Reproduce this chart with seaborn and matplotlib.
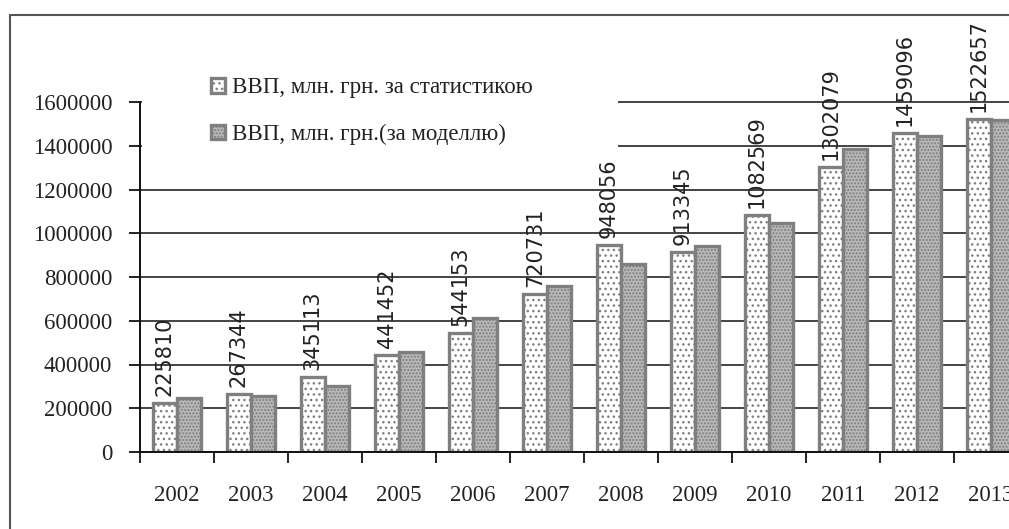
import numpy as np
import pandas as pd
import matplotlib
matplotlib.use('Agg')
import matplotlib.pyplot as plt
import seaborn as sns
from matplotlib.patches import Rectangle
from matplotlib.lines import Line2D

# Data
years = ['2002', '2003', '2004', '2005', '2006', '2007',
         '2008', '2009', '2010', '2011', '2012', '2013']
gdp_stat = [225810, 267344, 345113, 441452, 544153, 720731,
            948056, 913345, 1082569, 1302079, 1459096, 1522657]
gdp_model = [247000, 256000, 302000, 457000, 614000, 759000,
             859000, 943000, 1048000, 1383000, 1444000, 1517000]
series_names = ['ВВП, млн. грн. за статистикою', 'ВВП, млн. грн.(за моделлю)']
y_ticks = [0, 200000, 400000, 600000, 800000, 1000000, 1200000, 1400000, 1600000]

df = pd.DataFrame({
    'year': years * 2,
    'value': gdp_stat + gdp_model,
    'series': [series_names[0]] * len(years) + [series_names[1]] * len(years),
})

sns.set_style('white')
plt.rcParams['font.family'] = ['Liberation Serif', 'DejaVu Serif']
plt.rcParams['hatch.linewidth'] = 1.0

fig = plt.figure(figsize=(10.09, 5.29), dpi=100)
W, H = 1009, 529
# axes extends past the right edge, like the cropped original
ax = fig.add_axes([140 / W, 77 / H, 888 / W, 412 / H])

sns.barplot(data=df, x='year', y='value', hue='series', ax=ax,
            width=0.66, gap=0, legend=False, saturation=1)

edge = '#7f7f7f'
styles = [('white', '...'), ('#b8b8b8', '.....')]
for cont, (fc, hatch) in zip(ax.containers, styles):
    for p in cont:
        p.set_facecolor(fc)
        p.set_edgecolor(edge)
        p.set_hatch(hatch)
        p.set_linewidth(2.4)
        p.set_zorder(2)

ax.set_xlim(-0.5, len(years) - 0.5)
ax.set_ylim(0, 412 * 1600000 / 350)
ax.set_yticks(y_ticks)
ax.set_yticklabels([str(v) for v in y_ticks])
ax.grid(axis='y', color='#111111', lw=1.1)
ax.set_axisbelow(True)
ax.set_xlabel('')
ax.set_ylabel('')

# category boundary ticks + centred year labels
ax.set_xticks(np.arange(-0.5, len(years), 1.0))
ax.set_xticklabels([])
ax.set_xticks(np.arange(len(years)), minor=True)
ax.set_xticklabels(years, minor=True)
ax.tick_params(axis='x', which='major', direction='out', length=8, width=1.3, color='#111111', bottom=True)
ax.tick_params(axis='x', which='minor', length=0, pad=24, labelsize=16.5, labelcolor='#222222')
ax.tick_params(axis='y', direction='out', length=8, width=1.3, color='#111111', left=True,
               pad=12, labelsize=16.5, labelcolor='#222222')

for s in ['top', 'right']:
    ax.spines[s].set_visible(False)
for s in ['left', 'bottom']:
    ax.spines[s].set_color('#111111')
    ax.spines[s].set_linewidth(1.4)
ax.spines['left'].set_bounds(0, y_ticks[-1])

# value labels over the statistic bars
ax.bar_label(ax.containers[0], labels=[str(v) for v in gdp_stat], rotation=90,
             padding=5, fontsize=15, color='#222222', family='DejaVu Sans', clip_on=False)

# white area behind the legend hides the top gridlines there
ax.add_patch(Rectangle(((142 - 140) / 888, (452 - 170) / 412), (618 - 142) / 888, 130 / 412,
                       transform=ax.transAxes, facecolor='white', edgecolor='none', zorder=0.8))

leg = ax.legend(handles=[ax.containers[0], ax.containers[1]], labels=series_names,
                loc='upper left', bbox_to_anchor=((200 - 140) / 888, (452 - 66) / 412),
                frameon=False, fontsize=16.5, handlelength=0.6, handleheight=0.6,
                handletextpad=0.3, labelspacing=1.1, borderpad=0)
for t in leg.get_texts():
    t.set_color('#222222')

# chart area border (left and top edges visible)
fig.add_artist(Line2D([10 / W, 10 / W], [0, (H - 15) / H], color='#555555', lw=1.5))
fig.add_artist(Line2D([10 / W, 1], [(H - 15) / H, (H - 15) / H], color='#555555', lw=1.5))

fig.savefig('out.png', dpi=100)
